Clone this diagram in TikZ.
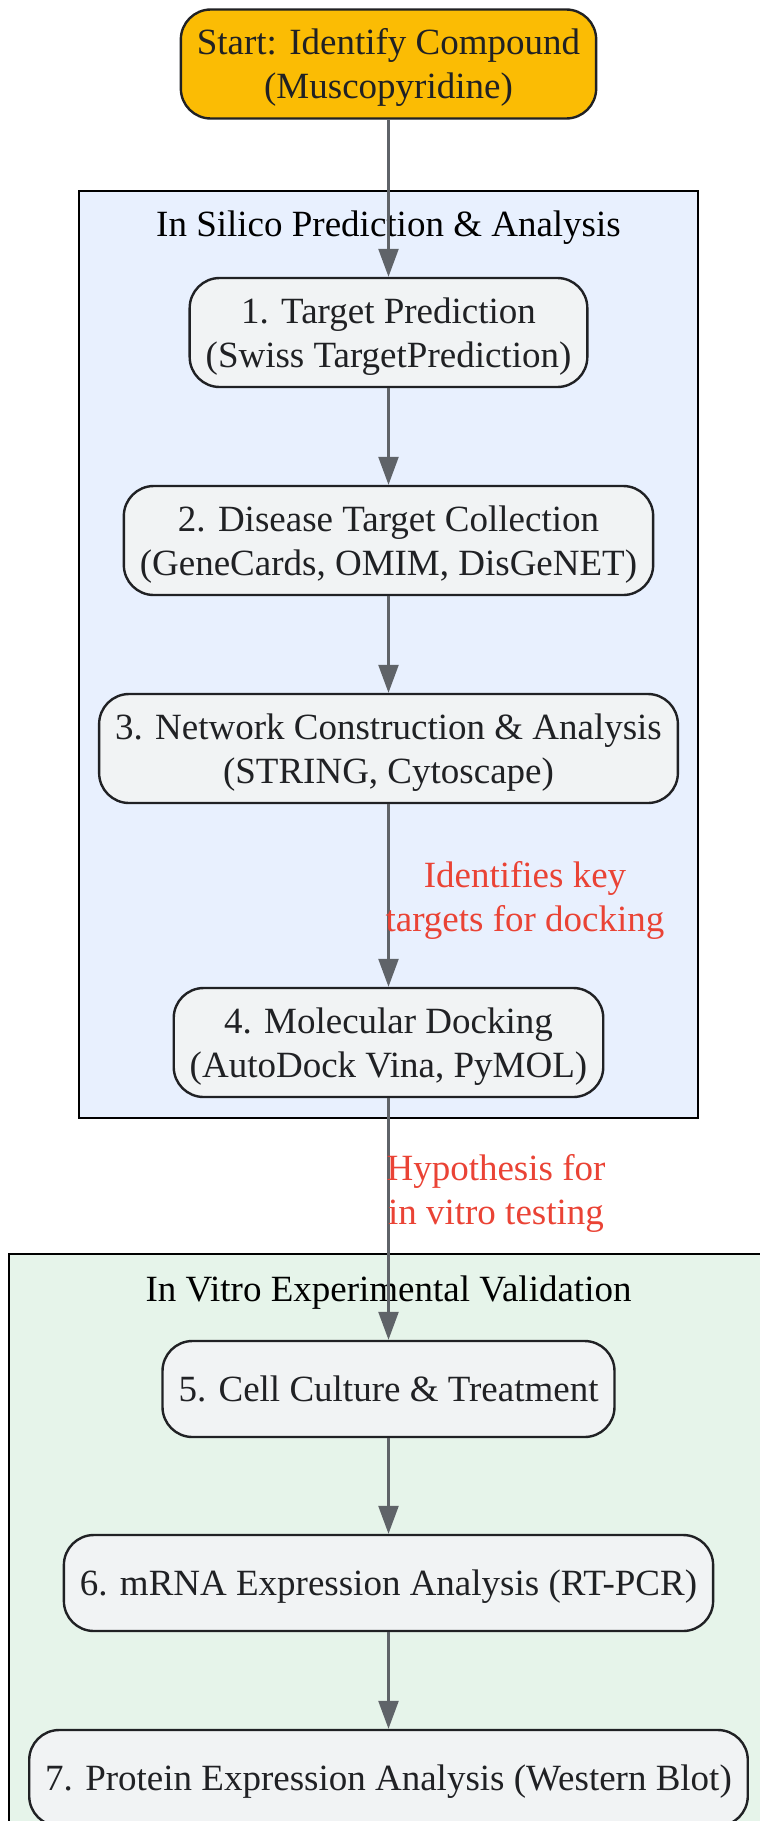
\documentclass[tikz,border=0pt]{standalone}
\usepackage{fontspec}
\setmainfont{Liberation Serif}
\usepackage{xcolor}
\usetikzlibrary{positioning,arrows.meta}

\definecolor{startyellow}{HTML}{FBBC04}
\definecolor{stepgray}{HTML}{F1F3F4}
\definecolor{inkdark}{HTML}{202124}
\definecolor{edgegray}{HTML}{5F6368}
\definecolor{silicoblue}{HTML}{E8F0FE}
\definecolor{vitrogreen}{HTML}{E6F4EA}
\definecolor{notered}{HTML}{EA4335}

\newcommand{\flowfont}{\fontsize{37}{44}\selectfont}
\newcommand{\flowstrut}{\rule[-8pt]{0pt}{41pt}}
\newcommand{\duoline}[2]{\flowstrut#1\\#2\flowstrut}

\tikzset{
  flowtext/.style={font=\flowfont, execute at begin node={\flowstrut}},
  stepbox/.style={flowtext, draw=inkdark, line width=2.4pt, fill=stepgray, rounded corners=30pt,
    align=center, text=inkdark, inner xsep=16pt, inner ysep=0pt,
    minimum height=109pt},
  onerow/.style={minimum height=96pt},
  startbox/.style={stepbox, fill=startyellow},
  groupbox/.style={draw=black, line width=2.4pt},
  grouptitle/.style={flowtext, text=black, inner sep=0pt},
  notelabel/.style={flowtext, text=notered, align=center, inner sep=0pt},
  flow/.style={draw=edgegray, line width=2.4pt, -{Triangle[length=28pt,width=20pt]}}
}

\begin{document}
\begin{tikzpicture}[x=1pt, y=-1pt]
    \useasboundingbox (0,0) rectangle (760,1821);
    \clip (0,0) rectangle (760,1821);

    % Groups
    \draw[groupbox, fill=silicoblue] (79,191) rectangle (698,1118);
    \node[grouptitle] (silicotitle) at (388.5,224) {In Silico Prediction \& Analysis};
    \draw[groupbox, fill=vitrogreen] (9,1254) rectangle (768,1900);
    \node[grouptitle] (vitrotitle) at (388.5,1289) {In Vitro Experimental Validation};

    % Steps
    \node[startbox] (start) at (388.5,64) {\duoline{Start: Identify Compound}{(Muscopyridine)}};
    \node[stepbox] (target) at (388.5,332.5) {\duoline{1. Target Prediction}{(Swiss TargetPrediction)}};
    \node[stepbox] (disease) at (388.5,540.5) {\duoline{2. Disease Target Collection}{(GeneCards, OMIM, DisGeNET)}};
    \node[stepbox] (network) at (388.5,748.5) {\duoline{3. Network Construction \& Analysis}{(STRING, Cytoscape)}};
    \node[stepbox] (docking) at (388.5,1042.5) {\duoline{4. Molecular Docking}{(AutoDock Vina, PyMOL)}};
    \node[stepbox, onerow] (culture) at (388.5,1389) {5. Cell Culture \& Treatment};
    \node[stepbox, onerow] (mrna) at (388.5,1583) {6. mRNA Expression Analysis (RT-PCR)};
    \node[stepbox, onerow] (protein) at (388.5,1778) {7. Protein Expression Analysis (Western Blot)};

    % Flow
    \draw[flow] (start) -- (target);
    \draw[flow] (target) -- (disease);
    \draw[flow] (disease) -- (network);
    \draw[flow] (network) -- (docking);
    \draw[flow] (docking) -- (culture);
    \draw[flow] (culture) -- (mrna);
    \draw[flow] (mrna) -- (protein);

    % Edge notes
    \node[notelabel] (keynote) at (525,897) {\duoline{Identifies key}{targets for docking}};
    \node[notelabel] (hyponote) at (496,1190) {\duoline{Hypothesis for}{in vitro testing}};
\end{tikzpicture}
\end{document}
